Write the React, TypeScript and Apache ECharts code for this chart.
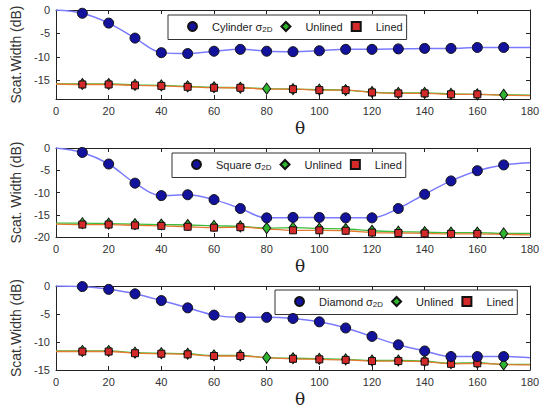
import React, { useEffect, useRef } from 'react';
import * as echarts from 'echarts';

// angles where markers are drawn
const thetaMarks = [10, 20, 30, 40, 50, 60, 70, 80, 90, 100, 110, 120, 130, 140, 150, 160, 170];
const thetaEnds = [0, 180];
const linedMarkerSkip = [80, 170];

// Cylinder panel
const cylinderSigma = [-0.7, -2.8, -6.0, -9.1, -9.3, -8.8, -8.4, -8.8, -8.9, -8.7, -8.4, -8.4, -8.3, -8.2, -8.2, -8.0, -8.0];
const cylinderSigmaEnds = [0, -8.0];
const cylinderUnlined = [-15.8, -15.8, -16.0, -16.1, -16.3, -16.5, -16.6, -16.8, -16.9, -17.0, -17.1, -17.5, -17.7, -17.7, -17.9, -18.0, -18.1];
const cylinderUnlinedEnds = [-15.7, -18.2];
const cylinderLined = [-15.9, -15.9, -16.1, -16.2, -16.4, -16.6, -16.6, -16.9, -16.9, -17.1, -17.1, -17.6, -17.8, -17.8, -18.0, -18.0, -18.2];
const cylinderLinedEnds = [-15.8, -18.3];

// Square panel
const squareSigma = [-1.0, -3.6, -7.9, -10.7, -10.5, -11.6, -13.6, -15.7, -15.6, -15.6, -15.7, -15.7, -13.6, -10.4, -7.4, -5.1, -3.8];
const squareSigmaEnds = [0, -3.3];
const squareUnlined = [-16.9, -17.0, -17.1, -17.2, -17.3, -17.5, -17.6, -18.0, -17.9, -18.1, -18.2, -18.6, -18.8, -18.9, -19.0, -19.0, -19.2];
const squareUnlinedEnds = [-16.9, -19.2];
const squareLined = [-17.2, -17.2, -17.4, -17.5, -17.7, -17.9, -17.8, -18.2, -18.5, -18.5, -18.6, -19.0, -19.1, -19.2, -19.3, -19.3, -19.4];
const squareLinedEnds = [-17.1, -19.5];

// Diamond panel
const diamondSigma = [-0.1, -0.6, -1.4, -2.6, -3.9, -5.2, -5.6, -5.6, -5.8, -6.4, -7.5, -9.0, -10.5, -11.6, -12.6, -12.6, -12.6];
const diamondSigmaEnds = [0, -12.8];
const diamondUnlined = [-11.6, -11.6, -11.9, -12.0, -12.1, -12.4, -12.4, -12.8, -12.9, -13.0, -13.1, -13.3, -13.3, -13.4, -13.8, -13.7, -14.0];
const diamondUnlinedEnds = [-11.6, -14.0];
const diamondLined = [-11.7, -11.7, -12.0, -12.1, -12.2, -12.5, -12.5, -12.8, -13.0, -13.1, -13.2, -13.4, -13.4, -13.5, -13.9, -13.8, -14.0];
const diamondLinedEnds = [-11.7, -14.1];

const shapeNames = ['Cylinder', 'Square', 'Diamond'];
const yMins = [-19, -20, -15];
const yNames = ['Scat.Width (dB)', 'Scat. Width (dB)', 'Scat.Width (dB)'];
const xTickStep = 20;
const yTickStep = 5;

const panels = [
  { sigma: cylinderSigma, sigmaEnds: cylinderSigmaEnds, unlined: cylinderUnlined, unlinedEnds: cylinderUnlinedEnds, lined: cylinderLined, linedEnds: cylinderLinedEnds },
  { sigma: squareSigma, sigmaEnds: squareSigmaEnds, unlined: squareUnlined, unlinedEnds: squareUnlinedEnds, lined: squareLined, linedEnds: squareLinedEnds },
  { sigma: diamondSigma, sigmaEnds: diamondSigmaEnds, unlined: diamondUnlined, unlinedEnds: diamondUnlinedEnds, lined: diamondLined, linedEnds: diamondLinedEnds },
];

const gridTops = [10, 148, 286];
const legendPos = [
  { left: 168, top: 15 },
  { left: 172, top: 153 },
  { left: 275, top: 290 },
];

const FONT = 'Liberation Sans';

function curve(vals: number[], ends: number[]) {
  return [[thetaEnds[0], ends[0]], ...thetaMarks.map((t, i) => [t, vals[i]]), [thetaEnds[1], ends[1]]];
}

export default function App() {
  const ref = useRef<HTMLDivElement>(null);
  useEffect(() => {
    if (!ref.current) return;
    const chart = echarts.init(ref.current, undefined, { renderer: 'svg' });

    const grid = gridTops.map((top) => ({ left: 56, top, width: 474, height: 89, containLabel: false }));

    const xAxis: any[] = [];
    const yAxis: any[] = [];
    const axisLine = { show: true, onZero: false, lineStyle: { color: '#222', width: 1 } };
    const axisTick = { show: true, inside: true, length: 4, lineStyle: { color: '#222' } };
    // bottom / left
    for (let i = 0; i < 3; i++) {
      xAxis.push({
        type: 'value', gridIndex: i, min: 0, max: 180, interval: xTickStep, position: 'bottom',
        axisLine, axisTick, splitLine: { show: false },
        axisLabel: { fontSize: 11, color: '#333', fontFamily: FONT, margin: 6 },
        name: 'θ', nameLocation: 'middle', nameGap: 20,
        nameTextStyle: { fontSize: 17, color: '#222', fontFamily: 'DejaVu Serif', padding: [0, 0, 0, 14] },
      });
      const yBase: any = {
        type: 'value', gridIndex: i, min: yMins[i], max: 0, position: 'left',
        axisLine, axisTick, splitLine: { show: false },
        axisLabel: { fontSize: 11, color: '#333', fontFamily: FONT, margin: 6, showMinLabel: yMins[i] % yTickStep === 0 },
        name: yNames[i], nameLocation: 'middle', nameGap: 31,
        nameTextStyle: { fontSize: 14, color: '#333', fontFamily: FONT },
      };
      if (yMins[i] % yTickStep === 0) yBase.interval = yTickStep; else yBase.splitNumber = 4;
      yAxis.push(yBase);
    }
    // top / right (frame ticks)
    for (let i = 0; i < 3; i++) {
      xAxis.push({
        type: 'value', gridIndex: i, min: 0, max: 180, interval: xTickStep, position: 'top',
        axisLine, axisTick, splitLine: { show: false }, axisLabel: { show: false },
      });
      const yR: any = {
        type: 'value', gridIndex: i, min: yMins[i], max: 0, position: 'right',
        axisLine, axisTick, splitLine: { show: false }, axisLabel: { show: false },
      };
      if (yMins[i] % yTickStep === 0) yR.interval = yTickStep; else yR.splitNumber = 4;
      yAxis.push(yR);
    }

    const series: any[] = [];
    panels.forEach((p, i) => {
      const common = { xAxisIndex: i, yAxisIndex: i };
      series.push({
        ...common, type: 'line', name: 'curve-sigma-' + i, smooth: 0.35, symbol: 'none',
        lineStyle: { color: '#7a7aff', width: 1.5 }, data: curve(p.sigma, p.sigmaEnds), z: 2,
      });
      series.push({
        ...common, type: 'line', name: 'curve-unlined-' + i, smooth: 0.35, symbol: 'none',
        lineStyle: { color: '#3dbd3d', width: 1.3 }, data: curve(p.unlined, p.unlinedEnds), z: 2,
      });
      series.push({
        ...common, type: 'line', name: 'curve-lined-' + i, smooth: 0.35, symbol: 'none',
        lineStyle: { color: '#e57a30', width: 1.3 }, data: curve(p.lined, p.linedEnds), z: 2,
      });
      series.push({
        ...common, type: 'scatter', name: 'Unlined', symbol: 'diamond', symbolSize: [8, 11],
        itemStyle: { color: '#2fb42f', borderColor: '#111', borderWidth: 1, opacity: 1 },
        data: thetaMarks.map((t, k) => [t, p.unlined[k]]), z: 3,
      });
      series.push({
        ...common, type: 'scatter', name: 'Lined', symbol: 'rect', symbolSize: 7,
        itemStyle: { color: '#d42a2a', borderColor: '#111', borderWidth: 1, opacity: 1 },
        data: thetaMarks
          .map((t, k) => [t, p.lined[k]])
          .filter((d) => linedMarkerSkip.indexOf(d[0]) < 0),
        z: 4,
      });
      series.push({
        ...common, type: 'scatter', name: shapeNames[i], symbol: 'circle', symbolSize: 10,
        itemStyle: { color: '#12129c', borderColor: '#111', borderWidth: 1, opacity: 1 },
        data: thetaMarks.map((t, k) => [t, p.sigma[k]]), z: 5,
      });
    });

    const legend = legendPos.map((pos, i) => ({
      ...pos,
      orient: 'horizontal',
      data: [shapeNames[i], 'Unlined', 'Lined'],
      selectedMode: false,
      itemWidth: 9,
      itemHeight: 9,
      itemGap: 8,
      padding: [6, 4, 6, 19],
      borderColor: '#333',
      borderWidth: 1,
      backgroundColor: '#fff',
      formatter: (name: string) => '{g|}' + (name === shapeNames[i] ? name + ' σ{sub|2D}' : name),
      textStyle: {
        fontSize: 11, color: '#222', fontFamily: FONT,
        rich: {
          g: { width: 10 },
          sub: { fontSize: 8, color: '#222', fontFamily: FONT, padding: [6, 0, 0, 0] },
        },
      },
    }));

    chart.setOption({
      animation: false,
      backgroundColor: '#fff',
      grid,
      xAxis,
      yAxis,
      legend,
      series,
    });
    return () => chart.dispose();
  }, []);
  return <div ref={ref} style={{ position: 'absolute', left: 0, top: 0, width: 543, height: 408 }} />;
}
